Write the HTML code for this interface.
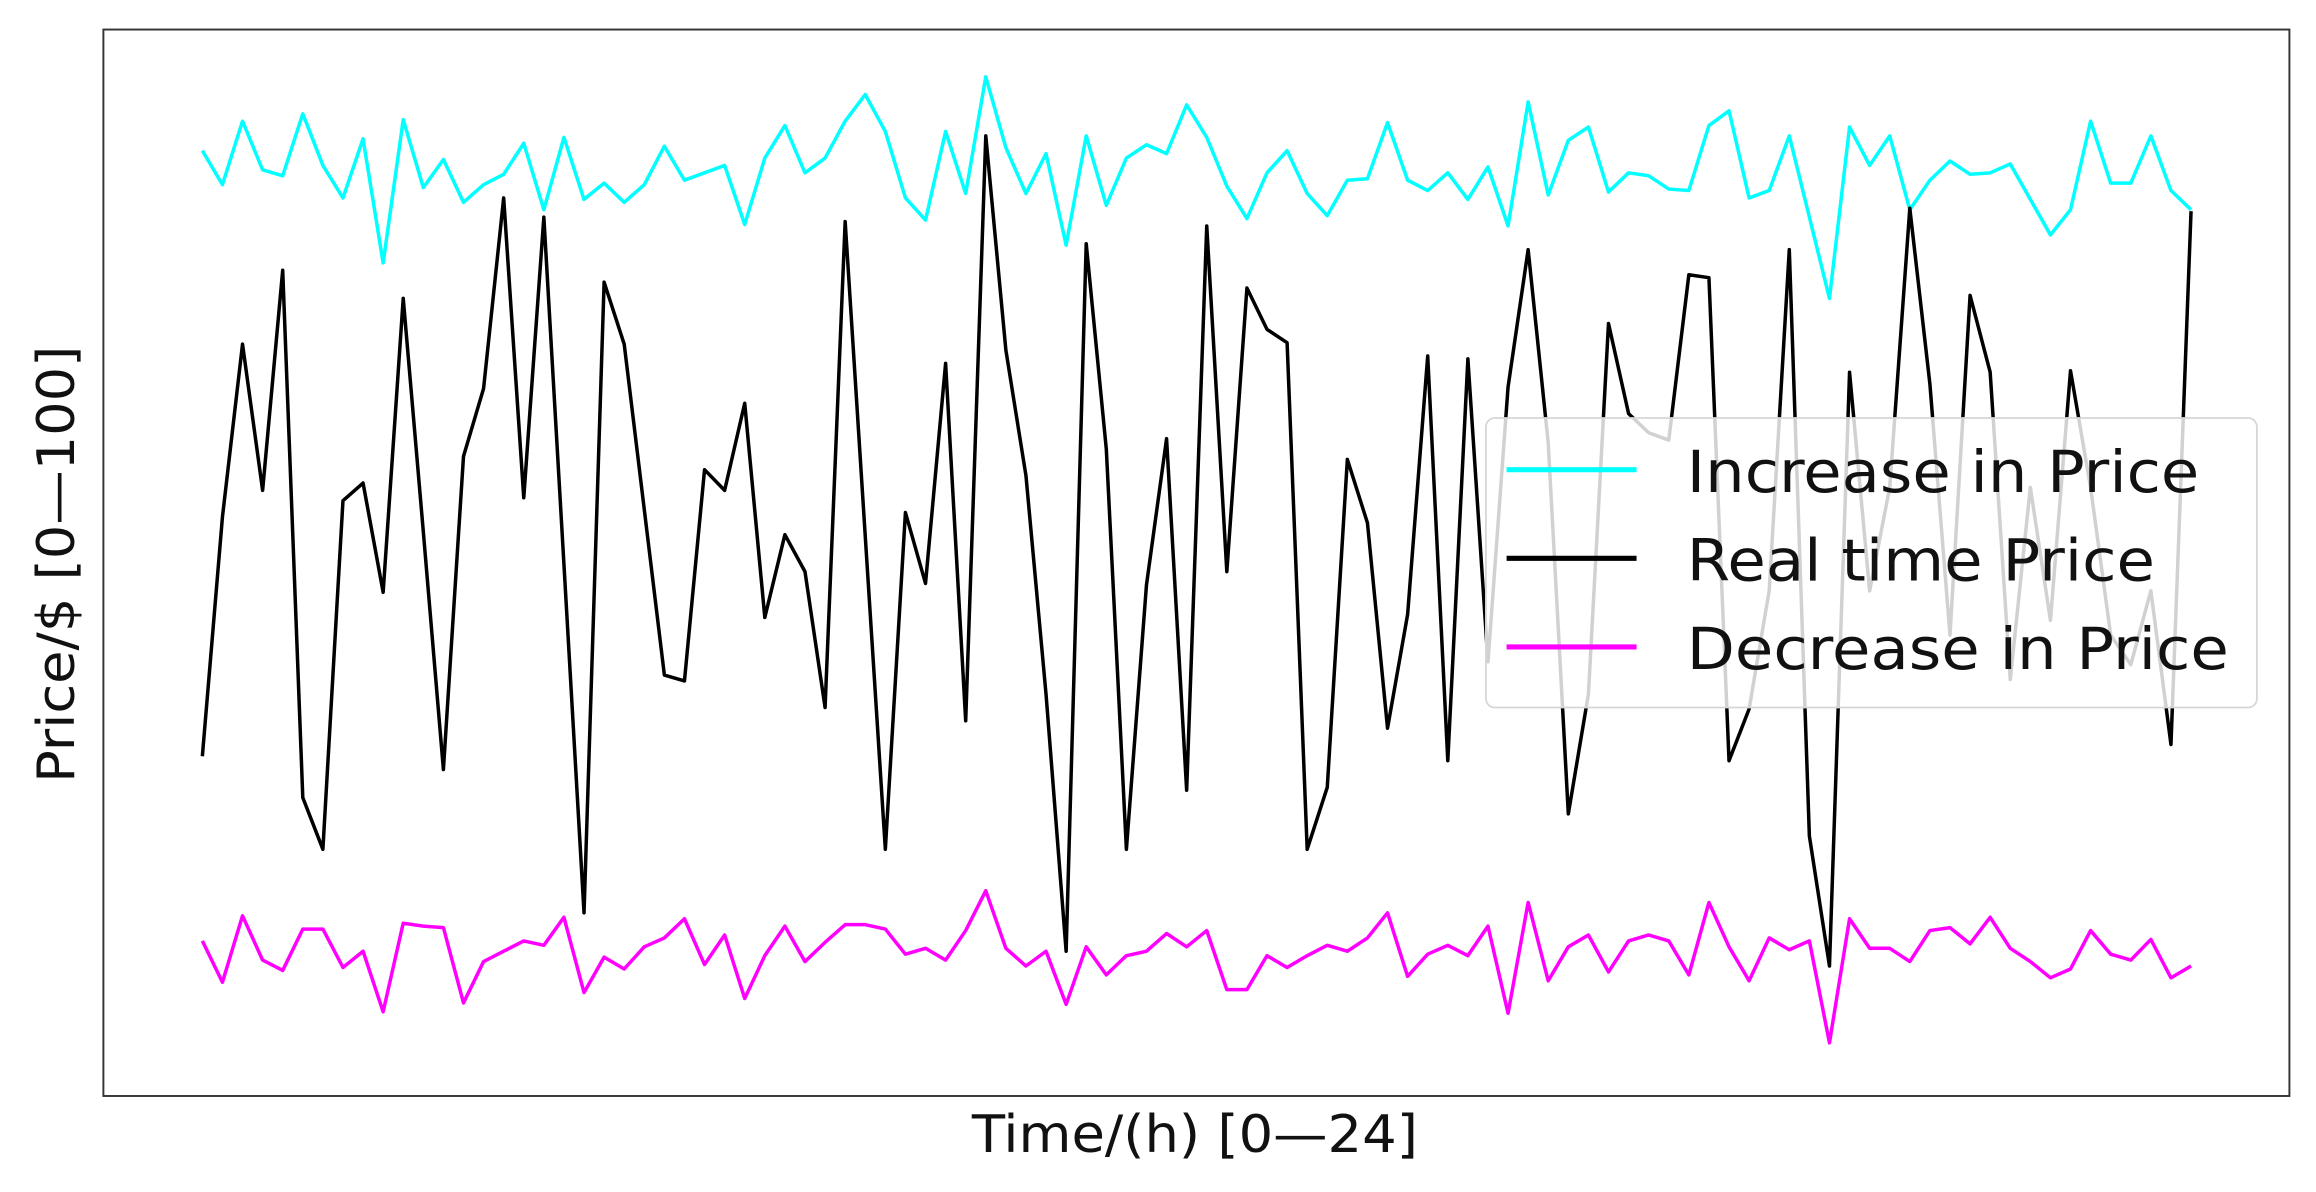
<!DOCTYPE html>
<html><head><meta charset="utf-8"><style>html,body{margin:0;padding:0;background:#fff}svg{display:block}</style></head>
<body>
<svg width="2316" height="1192" viewBox="0 0 1568 807" preserveAspectRatio="none" xmlns="http://www.w3.org/2000/svg">
<rect x="0" y="0" width="1568" height="807" fill="#fff"/>
<g transform="translate(137,0) scale(13.6,1)" fill="none" stroke-width="3.5" stroke-linejoin="round">
<polyline vector-effect="non-scaling-stroke" stroke="#00ffff" points="0,102 1,125 2,82 3,115 4,119 5,77 6,112 7,134 8,94 9,178 10,81 11,127 12,108 13,137 14,125 15,118 16,97 17,142 18,93 19,135 20,124 21,137 22,125 23,99 24,122 25,117 26,112 27,152 28,107 29,85 30,117 31,107 32,82 33,64 34,89 35,134 36,149 37,89 38,131 39,52 40,100 41,131 42,104 43,166 44,92 45,139 46,107 47,98 48,104 49,71 50,93 51,126 52,148 53,117 54,102 55,131 56,146 57,122 58,121 59,83 60,122 61,129 62,117 63,135 64,113 65,153 66,69 67,132 68,95 69,86 70,130 71,117 72,119 73,128 74,129 75,85 76,75 77,134 78,129 79,92 80,147 81,202 82,86 83,112 84,92 85,142 86,122 87,109 88,118 89,117 90,111 91,135 92,159 93,142 94,82 95,124 96,124 97,92 98,129 99,142"/>
<polyline vector-effect="non-scaling-stroke" stroke="#000" points="0,512 1,350 2,233 3,332 4,183 5,540 6,575 7,339 8,327 9,401 10,202 11,360 12,521 13,309 14,263 15,134 16,337 17,147 18,382 19,618 20,191 21,233 22,345 23,457 24,461 25,318 26,332 27,273 28,418 29,362 30,387 31,479 32,150 33,363 34,575 35,347 36,395 37,246 38,488 39,92 40,237 41,322 42,470 43,644 44,165 45,304 46,575 47,396 48,297 49,535 50,153 51,387 52,195 53,223 54,232 55,575 56,533 57,311 58,354 59,493 60,416 61,241 62,515 63,243 64,448 65,262 66,169 67,300 68,551 69,470 70,219 71,280 72,293 73,298 74,186 75,188 76,515 77,480 78,400 79,169 80,566 81,654 82,252 83,400 84,330 85,141 86,260 87,430 88,200 89,252 90,460 91,330 92,420 93,251 94,330 95,430 96,450 97,400 98,504 99,143"/>
<polyline vector-effect="non-scaling-stroke" stroke="#ff00ff" points="0,637 1,665 2,620 3,650 4,657 5,629 6,629 7,655 8,644 9,685 10,625 11,627 12,628 13,679 14,651 15,644 16,637 17,640 18,621 19,672 20,648 21,656 22,641 23,635 24,622 25,653 26,633 27,676 28,647 29,627 30,651 31,638 32,626 33,626 34,629 35,646 36,642 37,650 38,630 39,603 40,642 41,654 42,644 43,680 44,641 45,660 46,647 47,644 48,632 49,641 50,630 51,670 52,670 53,647 54,655 55,647 56,640 57,644 58,635 59,618 60,661 61,646 62,640 63,647 64,627 65,686 66,611 67,664 68,641 69,633 70,658 71,637 72,633 73,637 74,660 75,611 76,641 77,664 78,635 79,643 80,637 81,706 82,622 83,642 84,642 85,651 86,630 87,628 88,639 89,621 90,642 91,651 92,662 93,656 94,630 95,646 96,650 97,636 98,662 99,654"/>
</g>
<rect x="70" y="20" width="1480" height="722" fill="none" stroke="#333" stroke-width="1.3"/>
<rect x="1006" y="283" width="522" height="196" rx="6" fill="#fff" fill-opacity="0.82" stroke="#d6d6d6" stroke-width="1.2"/>
<line x1="1020" y1="318" x2="1108" y2="318" stroke="#00ffff" stroke-width="3.5"/>
<line x1="1020" y1="378" x2="1108" y2="378" stroke="#000" stroke-width="3.5"/>
<line x1="1020" y1="438" x2="1108" y2="438" stroke="#ff00ff" stroke-width="3.5"/>
<g font-family="DejaVu Sans, Liberation Sans, sans-serif" font-size="39" fill="#111">
<text x="1142" y="333" textLength="347" lengthAdjust="spacingAndGlyphs">Increase in Price</text>
<text x="1142" y="393" textLength="317" lengthAdjust="spacingAndGlyphs">Real time Price</text>
<text x="1142" y="453" textLength="367" lengthAdjust="spacingAndGlyphs">Decrease in Price</text>
<text x="658" y="780" font-size="35" textLength="302" lengthAdjust="spacingAndGlyphs">Time/(h) [0—24]</text>
<text transform="translate(50,530) rotate(-90)" x="0" y="0" font-size="35" textLength="296" lengthAdjust="spacingAndGlyphs">Price/$ [0—100]</text>
</g>
</svg>
</body></html>
